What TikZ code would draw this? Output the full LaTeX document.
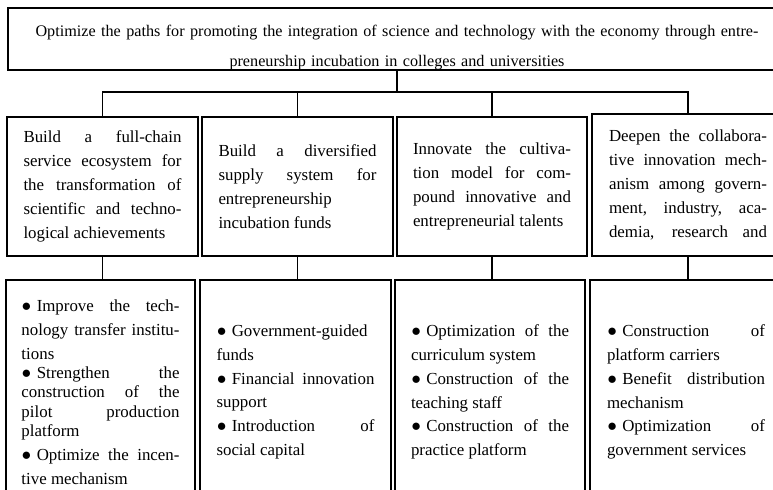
\documentclass[tikz,border=0pt]{standalone}
\usepackage{fontspec}
\setmainfont{Liberation Serif}
\usetikzlibrary{positioning}

% breaks only where the text asks for them
\hyphenpenalty=10000
\exhyphenpenalty=10000

\tikzset{
  box/.style={draw,rectangle,line width=1.4pt,inner sep=0pt,align=justify,
    text width=3.95cm,font=\fontsize{12}{17}\selectfont},
  goalbox/.style={box,align=center,text width=19cm,minimum width=19.45cm,
    text height=0.7125cm,text depth=0.8375cm,font=\fontsize{11.5}{21}\selectfont},
  pathbox/.style={box,minimum width=4.775cm,minimum height=3.475cm,anchor=north},
  measbox/.style={box,minimum width=4.75cm,minimum height=5.6cm,below=0.55cm of #1,xshift=-0.05cm},
  link/.style={line width=1.4pt},
}
\newcommand{\dotitem}{\mbox{●}\hspace{0.3em}}

\begin{document}
\begin{tikzpicture}

  \useasboundingbox (0,0) rectangle (19.325,-12.25);
  \clip (0,0) rectangle (19.325,-12.25);

  \node [goalbox,anchor=north west] at(0.175,-0.175) (goal) {Optimize the paths for promoting the integration of science and technology with the economy through entre-\\preneurship incubation in colleges and universities};

  % second level: the four paths
  \node [pathbox] at(2.5625,-2.9) (colA) {Build a full-chain\linebreak service ecosystem for\linebreak the transformation of\linebreak scientific and techno-\linebreak logical achievements};
  \node [pathbox] at(7.4375,-2.9) (colB) {Build a diversified\linebreak supply system for\linebreak entrepreneurship\linebreak incubation funds};
  \node [pathbox,minimum width=4.75cm] at(12.3,-2.9) (colC) {Innovate the cultiva-\linebreak tion model for com-\linebreak pound innovative and\linebreak entrepreneurial talents};
  \node [pathbox,minimum width=4.8cm,minimum height=3.55cm] at(17.2,-2.825) (colD) {Deepen the collabora-\linebreak tive innovation mech-\linebreak anism among govern-\linebreak ment, industry, aca-\linebreak \makebox[\hsize][s]{demia, research and}};

  % third level: measures under each path
  \node [measbox=colA,minimum width=4.725cm] (resA) {%
    \setlength\baselineskip{0.6cm}\dotitem Improve the tech-\linebreak nology transfer institu-\linebreak tions\par
    \setlength\baselineskip{0.48cm}\dotitem Strengthen the\linebreak construction of the\linebreak pilot production\linebreak platform\par
    \setlength\baselineskip{0.6cm}\dotitem Optimize the incen-\linebreak tive mechanism};
  \node [measbox=colB,minimum width=4.775cm] (resB) {%
    \dotitem Government-guided\linebreak funds\par
    \dotitem Financial innovation\linebreak support\par
    \dotitem Introduction of\linebreak social capital};
  \node [measbox=colC] (resC) {%
    \dotitem Optimization of the\linebreak curriculum system\par
    \dotitem Construction of the\linebreak teaching staff\par
    \dotitem Construction of the\linebreak practice platform};
  \node [measbox=colD,minimum width=4.8cm] (resD) {%
    \dotitem Construction of\linebreak platform carriers\par
    \dotitem Benefit distribution\linebreak mechanism\par
    \dotitem Optimization of\linebreak government services};

  % connectors
  \draw[link] (goal.south) -- ++(0,-0.525) coordinate (fork);
  \draw[link] (colA.north) |- (fork) -| (colD.north);
  \foreach \c in {colB,colC}
    \draw[link] (fork -| \c.north) -- (\c.north);
  \foreach \c/\r in {colA/resA,colB/resB,colC/resC,colD/resD}
    \draw[link] (\c.south) -- (\c.south |- \r.north);

\end{tikzpicture}
\end{document}
